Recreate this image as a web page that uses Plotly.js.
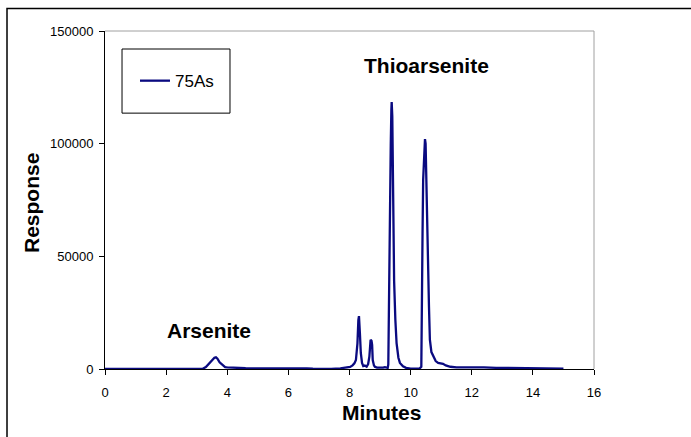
<!DOCTYPE html>
<html>
<head>
<meta charset="utf-8">
<script src="https://cdn.plot.ly/plotly-3.0.1.min.js"></script>
<style>
  html, body { margin: 0; padding: 0; background: #fff; }
  #chart { width: 691px; height: 437px; }
</style>
</head>
<body>
<div id="chart"></div>
<script>
// Retention time (minutes) of the 75As chromatogram
const minutes = [
  0, 1, 2, 3, 3.2, 3.3, 3.4, 3.5, 3.58, 3.63, 3.68, 3.75, 3.85, 3.93, 4.0, 4.1, 4.2,
  4.3, 4.6, 5.0, 5.4, 5.8, 6.2, 6.6, 6.8, 7.0, 7.4, 7.7, 7.9, 8.02, 8.1, 8.16, 8.21,
  8.26, 8.29, 8.31, 8.34, 8.37, 8.41, 8.45, 8.5, 8.56, 8.61, 8.65, 8.69, 8.72, 8.74,
  8.76, 8.8, 8.83, 8.9, 9.0, 9.1, 9.16, 9.22, 9.25, 9.27, 9.28, 9.3, 9.33, 9.35,
  9.37, 9.38, 9.4, 9.42, 9.44, 9.46, 9.5, 9.54, 9.6, 9.65, 9.75, 9.85, 10.0, 10.15,
  10.3, 10.35, 10.37, 10.39, 10.41, 10.44, 10.47, 10.49, 10.52, 10.56, 10.6, 10.63,
  10.68, 10.74, 10.82, 10.9, 11.0, 11.06, 11.15, 11.3, 11.5, 11.8, 12.1, 12.4, 12.8,
  13.2, 13.6, 14.0, 14.5, 15.0
];

// Detector response (counts)
const response = [
  0, 0, 0, 0, 100, 900, 2300, 3800, 5000, 5200, 4600, 3000, 1500, 800, 700, 600, 500,
  400, 350, 300, 350, 300, 350, 250, 100, 50, 80, 300, 500, 900, 1600, 2500, 4000,
  11400, 21700, 23500, 16000, 7100, 2700, 1300, 1500, 1000, 2200, 5500, 12900, 12500, 10700,
  4000, 1600, 1000, 600, 500, 600, 800, 700, 500, 2000, 18000, 54000, 85000, 100000,
  115000, 118500, 112000, 90000, 60000, 39000, 22000, 11500, 5000, 2700, 1200, 500, 200, 150,
  300, 1000, 20000, 60000, 84000, 97000, 102000, 100000, 85000, 54000, 28000, 13000,
  7500, 5500, 3500, 2700, 2400, 2300, 1600, 1000, 700, 800, 600, 700, 500,
  400, 350, 300, 250, 200
];

const seriesName = '75As';
const xTicks = [0, 2, 4, 6, 8, 10, 12, 14, 16];
const yTicks = [0, 50000, 100000, 150000];
const xTitle = 'Minutes';
const yTitle = 'Response';

const peakLabels = [
  { text: 'Arsenite', x: 3.39, y: 17300 },
  { text: 'Thioarsenite', x: 10.52, y: 134900 }
];

const FONT = 'Liberation Sans, Arial, sans-serif';

const trace = {
  x: minutes,
  y: response,
  type: 'scatter',
  mode: 'lines',
  name: seriesName,
  line: { color: '#0a0a80', width: 2.3 }
};

const boldText = (size) => ({ size: size, family: FONT, weight: 'bold', color: '#000' });

const layout = {
  width: 691,
  height: 437,
  margin: { l: 105, r: 97, t: 31, b: 68, pad: 0 },
  paper_bgcolor: '#ffffff',
  plot_bgcolor: '#ffffff',
  font: { family: FONT, color: '#000' },
  showlegend: true,
  legend: {
    x: 0.0613, y: 0.905, xanchor: 'left', yanchor: 'top',
    bgcolor: 'rgba(0,0,0,0)', borderwidth: 0,
    font: { size: 17, family: FONT, color: '#000' }
  },
  xaxis: {
    range: [0, 16],
    tickvals: xTicks,
    ticktext: xTicks.map(String),
    ticks: 'outside', ticklen: 5, tickcolor: '#000', tickwidth: 1,
    ticklabelstandoff: 6,
    showline: true, linecolor: '#000', linewidth: 1,
    showgrid: false, zeroline: false,
    tickfont: { size: 13 }
  },
  yaxis: {
    range: [0, 150000],
    tickvals: yTicks,
    ticktext: yTicks.map(String),
    ticks: 'outside', ticklen: 5, tickcolor: '#000', tickwidth: 1,
    ticklabelstandoff: 3,
    showline: true, linecolor: '#000', linewidth: 1,
    showgrid: false, zeroline: false,
    tickfont: { size: 13 }
  },
  annotations: peakLabels.map(p => ({
    x: p.x, y: p.y, xref: 'x', yref: 'y', text: p.text, showarrow: false,
    font: boldText(21)
  })).concat([
    { x: 0.566, y: -0.13, xref: 'paper', yref: 'paper', text: xTitle, showarrow: false,
      xanchor: 'center', yanchor: 'middle', font: boldText(21) },
    { x: -0.15, y: 0.49, xref: 'paper', yref: 'paper', text: yTitle, showarrow: false,
      textangle: -90, xanchor: 'center', yanchor: 'middle', font: boldText(21) }
  ]),
  shapes: [
    // grey top and right edges of the plot area
    { type: 'line', xref: 'paper', yref: 'paper', x0: 0, x1: 1, y0: 1, y1: 1, line: { color: '#a0a0a0', width: 1 } },
    { type: 'line', xref: 'paper', yref: 'paper', x0: 1, x1: 1, y0: 0, y1: 1, line: { color: '#a0a0a0', width: 1 } },
    // legend box
    { type: 'rect', xref: 'paper', yref: 'paper', x0: 0.0348, x1: 0.2556, y0: 0.757, y1: 0.9467, line: { color: '#000', width: 1 } },
    // outer chart frame
    { type: 'rect', xref: 'paper', yref: 'paper', x0: -0.2004, x1: 1.25, y0: -0.25, y1: 1.0666, line: { color: '#000', width: 1.5 } }
  ]
};

Plotly.newPlot('chart', [trace], layout, { displayModeBar: false, staticPlot: true });
</script>
</body>
</html>
